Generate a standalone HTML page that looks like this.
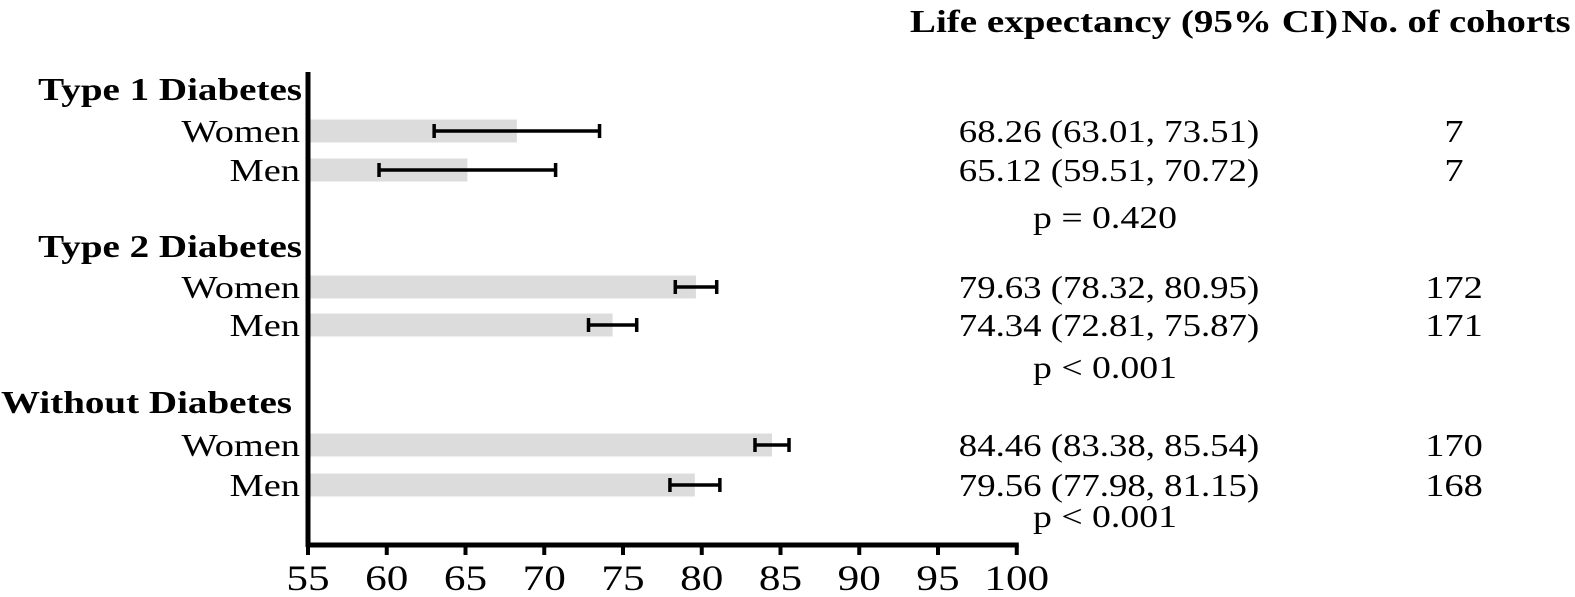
<!DOCTYPE html>
<html><head><meta charset="utf-8"><style>
body{margin:0;background:#fff}
svg text{font-family:"Liberation Serif",serif;fill:#000}
</style></head><body>
<svg width="1575" height="592">
<g id="plot"></g>
</svg>
<script>
const groups=["Type 1 Diabetes","Type 2 Diabetes","Without Diabetes"];
const rowLabels=["Women","Men","Women","Men","Women","Men"];
const values=[68.26,65.12,79.63,74.34,84.46,79.56];
const lower=[63.01,59.51,78.32,72.81,83.38,77.98];
const upper=[73.51,70.72,80.95,75.87,85.54,81.15];
const cohorts=["7","7","172","171","170","168"];
const pvals=["p = 0.420","p < 0.001","p < 0.001"];
const ticks=[55,60,65,70,75,80,85,90,95,100];
const NS="http://www.w3.org/2000/svg";
const g=document.getElementById('plot');
const x=v=>308+(v-55)*15.75;
const rowY=[131,170,287,325,445,485];
const groupY=[100,257,413];
const groupX=[302,302,292];
const pY=[228,378,527];
function mk(t,a,txt){const e=document.createElementNS(NS,t);for(const k in a)e.setAttribute(k,a[k]);if(txt!=null)e.textContent=txt;g.appendChild(e);return e;}
function tx(px,py,size,sx,anchor,txt,bold){
 const e=mk('text',{x:0,y:0,'font-size':size,'text-anchor':anchor,transform:'translate('+px+','+py+') scale('+sx+',1)'},txt);
 if(bold)e.setAttribute('font-weight','bold');
 return e;
}
let e;
e=tx(1124,32,32,1.22,'middle','Life expectancy (95% CI)',true);


e=tx(1456,32,32,1.2,'middle','No. of cohorts',true);


groups.forEach((gr,i)=>{
 e=tx(groupX[i],groupY[i],32,1.22,'end',gr,true);
 
 
 e=tx(1105,pY[i],32,1.18,'middle',pvals[i]);
 
 
});
values.forEach((v,i)=>{
 const y=rowY[i];
 e=mk('rect',{x:x(55),y:y-11.5,width:x(v)-x(55),height:23,fill:'#dcdcdc'});
 
 
 e=mk('line',{x1:x(lower[i]),x2:x(upper[i]),y1:y,y2:y,stroke:'#000','stroke-width':3.5});
 
 
 [lower[i],upper[i]].forEach(c=>{
  e=mk('line',{x1:x(c),x2:x(c),y1:y-7,y2:y+7,stroke:'#000','stroke-width':3.5});
  
  
 });
 e=tx(300,y+11,32,1.2,'end',rowLabels[i]);
 
 
 e=tx(1109,y+11,32,1.15,'middle',v.toFixed(2)+' ('+lower[i].toFixed(2)+', '+upper[i].toFixed(2)+')');
 
 
 e=tx(1454,y+11,32,1.2,'middle',cohorts[i]);
 
 
});
e=mk('line',{x1:308,x2:308,y1:72,y2:547,stroke:'#000','stroke-width':5});


e=mk('line',{x1:306,x2:x(100)+2,y1:545,y2:545,stroke:'#000','stroke-width':5});


ticks.forEach(t=>{
 e=mk('line',{x1:x(t),x2:x(t),y1:545,y2:555,stroke:'#000','stroke-width':4});
 
 
 e=tx(x(t),590,36,1.2,'middle',String(t));
 
 
});
</script>
</body></html>
